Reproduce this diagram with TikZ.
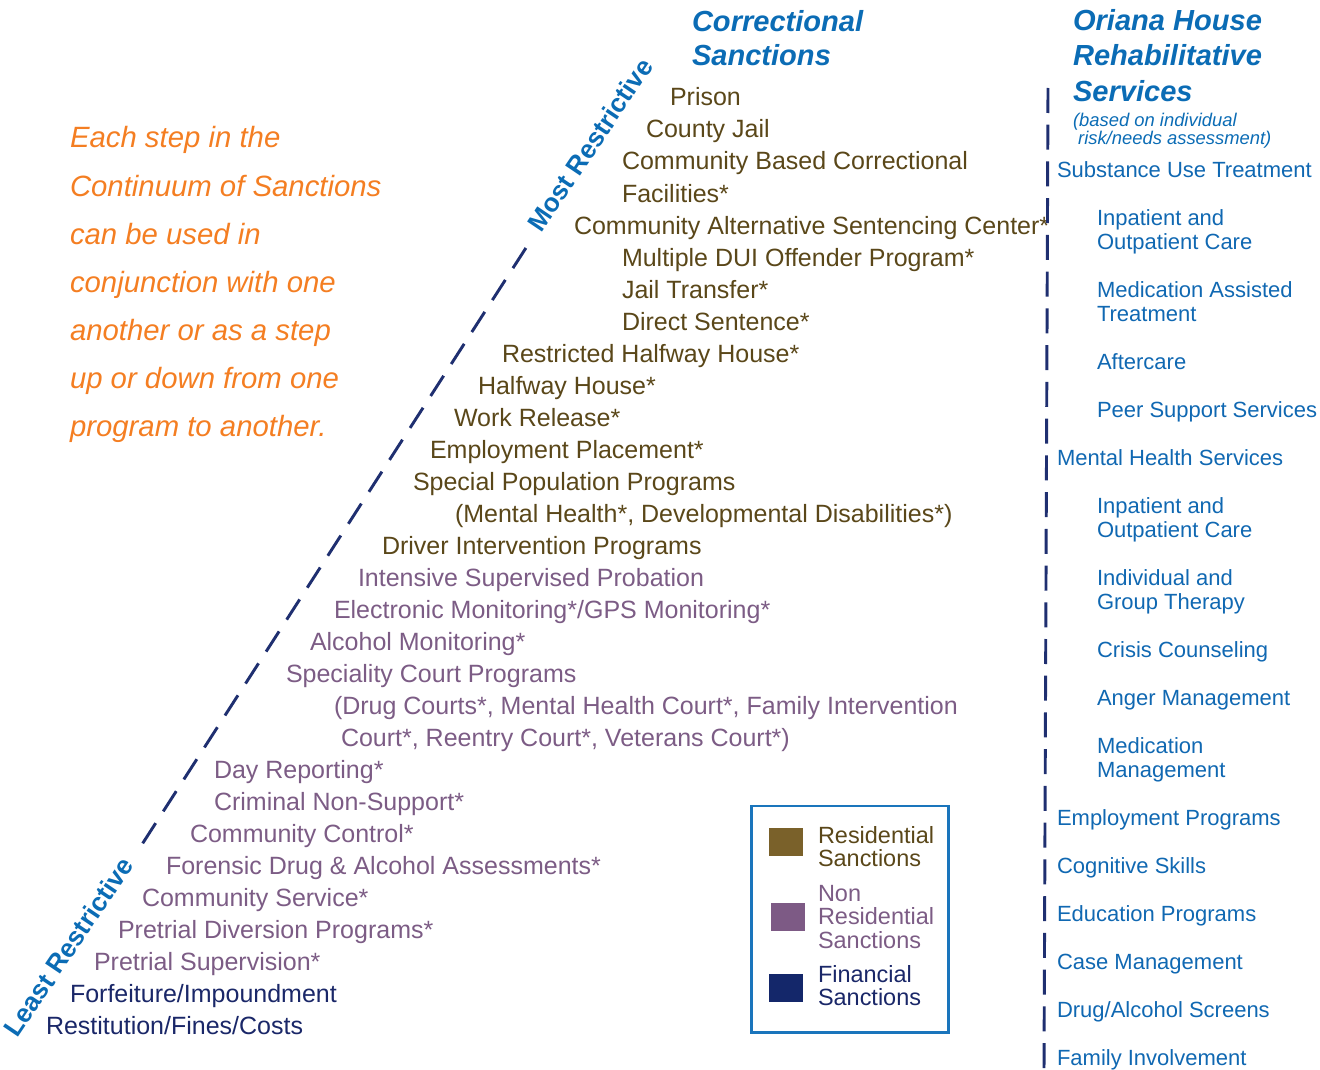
\documentclass[tikz,border=0pt]{standalone}
\usepackage{fontspec}
\setmainfont{Liberation Sans}
\definecolor{resid}{HTML}{5A4719}
\definecolor{residsq}{HTML}{7A612A}
\definecolor{nonres}{HTML}{7C5C85}
\definecolor{nonressq}{HTML}{7D5A85}
\definecolor{fin}{HTML}{1A2768}
\definecolor{finsq}{HTML}{14276A}
\definecolor{hblue}{HTML}{0B6CB5}
\definecolor{sblue}{HTML}{1068B2}
\definecolor{orng}{HTML}{F47E22}
\definecolor{dashnavy}{HTML}{1F2F70}
\definecolor{legborder}{HTML}{1A75BC}
\begin{document}
\begin{tikzpicture}[x=0.75pt,y=-0.75pt,
  txt/.style={anchor=base west, inner sep=0pt, outer sep=0pt},
  res/.style={txt, text=resid, font=\fontsize{18.75}{24}\selectfont},
  nres/.style={txt, text=nonres, font=\fontsize{18.75}{24}\selectfont},
  fnc/.style={txt, text=fin, font=\fontsize{18.75}{24}\selectfont},
  hdr/.style={txt, text=hblue, font=\fontsize{21.8}{26}\selectfont\bfseries\itshape},
  hsmall/.style={txt, text=hblue, font=\fontsize{13.8}{16}\selectfont\itshape},
  svc/.style={txt, text=sblue, font=\fontsize{16.5}{20}\selectfont},
  note/.style={txt, text=orng, font=\fontsize{22}{28}\selectfont\itshape},
  leg/.style={txt, font=\fontsize{17.6}{18}\selectfont},
  rot/.style={anchor=center, inner sep=0pt, text=hblue, rotate=56, font=\fontsize{19.6}{22}\selectfont\bfseries},
  dashline/.style={draw=dashnavy, line width=2.2pt, dash pattern=on 18pt off 10.5pt},
  vdash/.style={draw=dashnavy, line width=2.2pt, dash pattern=on 18.75pt off 8.8pt},
  legbox/.style={draw=legborder, line width=2pt}
]
\useasboundingbox (0,0) rectangle (1320,1070);

% headers
\node[hdr] (h1) at (692,32) {Correctional};
\node[hdr] (h2) at (692,66) {Sanctions};
\node[hdr] (o1) at (1073,31) {Oriana House};
\node[hdr] (o2) at (1073,66) {Rehabilitative};
\node[hdr] (o3) at (1073,102) {Services};
\node[hsmall] (o4) at (1073,127) {(based on individual};
\node[hsmall] (o5) at (1073,145) {\ risk/needs assessment)};

% orange note
\node[note] (n1) at (70,148) {Each step in the};
\node[note] (n2) at (70,196) {Continuum of Sanctions};
\node[note] (n3) at (70,244) {can be used in};
\node[note] (n4) at (70,292) {conjunction with one};
\node[note] (n5) at (70,340) {another or as a step};
\node[note] (n6) at (70,388) {up or down from one};
\node[note] (n7) at (70,436) {program to another.};

% residential sanctions
\node[res] (r1) at (670,106) {Prison};
\node[res] (r2) at (646,138) {County Jail};
\node[res] (r3) at (622,170) {Community Based Correctional};
\node[res] (r4) at (622,202) {Facilities*};
\node[res] (r5) at (574,234) {Community Alternative Sentencing Center*};
\node[res] (r6) at (622,266) {Multiple DUI Offender Program*};
\node[res] (r7) at (622,298) {Jail Transfer*};
\node[res] (r8) at (622,330) {Direct Sentence*};
\node[res] (r9) at (502,362) {Restricted Halfway House*};
\node[res] (r10) at (478,394) {Halfway House*};
\node[res] (r11) at (454,426) {Work Release*};
\node[res] (r12) at (430,458) {Employment Placement*};
\node[res] (r13) at (413,490) {Special Population Programs};
\node[res] (r14) at (455,522) {(Mental Health*, Developmental Disabilities*)};
\node[res] (r15) at (382,554) {Driver Intervention Programs};

% non residential sanctions
\node[nres] (p1) at (358,586) {Intensive Supervised Probation};
\node[nres] (p2) at (334,618) {Electronic Monitoring*/GPS Monitoring*};
\node[nres] (p3) at (310,650) {Alcohol Monitoring*};
\node[nres] (p4) at (286,682) {Speciality Court Programs};
\node[nres] (p5) at (334,714) {(Drug Courts*, Mental Health Court*, Family Intervention};
\node[nres] (p6) at (341,746) {Court*, Reentry Court*, Veterans Court*)};
\node[nres] (p7) at (214,778) {Day Reporting*};
\node[nres] (p8) at (214,810) {Criminal Non-Support*};
\node[nres] (p9) at (190,842) {Community Control*};
\node[nres] (p10) at (166,874) {Forensic Drug \& Alcohol Assessments*};
\node[nres] (p11) at (142,906) {Community Service*};
\node[nres] (p12) at (118,938) {Pretrial Diversion Programs*};
\node[nres] (p13) at (94,970) {Pretrial Supervision*};

% financial sanctions
\node[fnc] (f1) at (70,1002) {Forfeiture/Impoundment};
\node[fnc] (f2) at (46,1034) {Restitution/Fines/Costs};

% restrictiveness axis
\coordinate (lsA) at (142.7,843.3);
\coordinate (lsB) at (529.3,242.7);
\draw[dashline] (lsA) -- (lsB);
\node[rot] (most) at (590,145) {Most Restrictive};
\node[rot] (least) at (68.5,946.5) {Least Restrictive};

% services divider
\coordinate (vA) at (1048,88);
\coordinate (vB) at (1044,1069);
\draw[vdash] (vA) -- (vB);

% services
\node[svc] (s1) at (1057,177) {Substance Use Treatment};
\node[svc] (s2) at (1097,225) {Inpatient and};
\node[svc] (s2b) at (1097,249) {Outpatient Care};
\node[svc] (s3) at (1097,297) {Medication Assisted};
\node[svc] (s3b) at (1097,321) {Treatment};
\node[svc] (s4) at (1097,369) {Aftercare};
\node[svc] (s5) at (1097,417) {Peer Support Services};
\node[svc] (s6) at (1057,465) {Mental Health Services};
\node[svc] (s7) at (1097,513) {Inpatient and};
\node[svc] (s7b) at (1097,537) {Outpatient Care};
\node[svc] (s8) at (1097,585) {Individual and};
\node[svc] (s8b) at (1097,609) {Group Therapy};
\node[svc] (s9) at (1097,657) {Crisis Counseling};
\node[svc] (s10) at (1097,705) {Anger Management};
\node[svc] (s11) at (1097,753) {Medication};
\node[svc] (s11b) at (1097,777) {Management};
\node[svc] (s12) at (1057,825) {Employment Programs};
\node[svc] (s13) at (1057,873) {Cognitive Skills};
\node[svc] (s14) at (1057,921) {Education Programs};
\node[svc] (s15) at (1057,969) {Case Management};
\node[svc] (s16) at (1057,1017) {Drug/Alcohol Screens};
\node[svc] (s17) at (1057,1065) {Family Involvement};

% legend
\draw[legbox] (751.7,806) rectangle (948.3,1032.3);
\fill[residsq] (769,828.3) rectangle (802.7,855.7);
\fill[nonressq] (771,903.3) rectangle (804.7,930.7);
\fill[finsq] (769,974) rectangle (802.7,1001.7);
\node[leg, text=resid] (l1) at (818,843) {Residential};
\node[leg, text=resid] (l1b) at (818,866) {Sanctions};
\node[leg, text=nonres] (l2) at (818,901) {Non};
\node[leg, text=nonres] (l2b) at (818,924) {Residential};
\node[leg, text=nonres] (l2c) at (818,948) {Sanctions};
\node[leg, text=fin] (l3) at (818,982) {Financial};
\node[leg, text=fin] (l3b) at (818,1005) {Sanctions};
\end{tikzpicture}
\end{document}
